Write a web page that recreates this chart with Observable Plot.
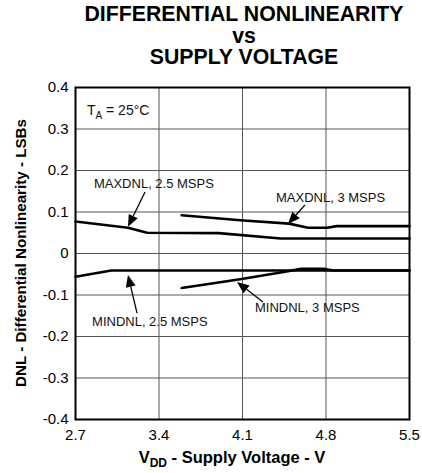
<!DOCTYPE html>
<html><head><meta charset="utf-8">
<script src="https://cdn.jsdelivr.net/npm/d3@7"></script>
<script src="https://cdn.jsdelivr.net/npm/@observablehq/plot@0.6"></script>
<style>
body{margin:0;background:#fff;font-family:"Liberation Sans",Arial,sans-serif;}
#title{height:70px;box-sizing:border-box;padding-top:4px;padding-left:66px;width:422px;text-align:center;font-weight:bold;font-size:21.3px;color:#000;white-space:nowrap;}
#title div{height:21.5px;line-height:21.5px;overflow:visible;}
</style></head><body>
<div id="title"></div>
<div id="chart"></div>
<script>
// ---- data ----
const titleLines = ["DIFFERENTIAL NONLINEARITY", "vs", "SUPPLY VOLTAGE"];
const xTicks = [2.7, 3.4, 4.1, 4.8, 5.5];
const xTickLabels = ["2.7", "3.4", "4.1", "4.8", "5.5"];
const yTicks = [-0.4, -0.3, -0.2, -0.1, 0, 0.1, 0.2, 0.3, 0.4];
const yTickLabels = ["-0.4", "-0.3", "-0.2", "-0.1", "0", "0.1", "0.2", "0.3", "0.4"];

const maxDnl25V = [2.7, 3.14, 3.30, 3.90, 4.42, 5.5];
const maxDnl25 = [0.077, 0.062, 0.050, 0.049, 0.036, 0.036];
const maxDnl3V = [3.59, 4.08, 4.49, 4.65, 4.81, 4.89, 5.5];
const maxDnl3 = [0.092, 0.080, 0.072, 0.062, 0.062, 0.066, 0.066];
const minDnl25V = [2.7, 3.0, 5.5];
const minDnl25 = [-0.056, -0.041, -0.041];
const minDnl3V = [3.59, 4.08, 4.42, 4.59, 4.78, 4.86, 5.5];
const minDnl3 = [-0.083, -0.062, -0.046, -0.037, -0.037, -0.041, -0.041];

const labelText = ["MAXDNL, 2.5 MSPS", "MAXDNL, 3 MSPS", "MINDNL, 2.5 MSPS", "MINDNL, 3 MSPS"];
const labelX = [2.859, 4.385, 2.843, 4.209];
const labelY = [0.157, 0.123, -0.176, -0.142];
const arrowX1 = [3.287, 4.628, 3.220, 4.276];
const arrowY1 = [0.147, 0.116, -0.145, -0.118];
const arrowX2 = [3.144, 4.486, 3.144, 4.058];
const arrowY2 = [0.063, 0.070, -0.053, -0.070];
const tempX = 2.8, tempY = 0.333;
const yLabel = "DNL - Differential Nonlinearity - LSBs";

// ---- build ----
const titleEl = document.getElementById("title");
titleLines.forEach(s => { const d = document.createElement("div"); d.textContent = s; titleEl.appendChild(d); });

const series = [];
const add = (name, xs, ys) => xs.forEach((v, i) => series.push({name, v, dnl: ys[i]}));
add("max25", maxDnl25V, maxDnl25);
add("max3", maxDnl3V, maxDnl3);
add("min25", minDnl25V, minDnl25);
add("min3", minDnl3V, minDnl3);

const annotations = labelText.map((t, i) => ({t, x: labelX[i], y: labelY[i], x1: arrowX1[i], y1: arrowY1[i], x2: arrowX2[i], y2: arrowY2[i]}));

function overlay(index, scales, values, dims) {
  const g = d3.create("svg:g").attr("font-family", "'Liberation Sans', Arial, sans-serif").attr("text-anchor", "start");
  const sx = scales.x, sy = scales.y;
  annotations.forEach(a => {
    const X1 = sx(a.x1), Y1 = sy(a.y1), X2 = sx(a.x2), Y2 = sy(a.y2);
    const ang = Math.atan2(Y2 - Y1, X2 - X1);
    const L = 12, W = 5;
    const bx = X2 - L * Math.cos(ang), by = Y2 - L * Math.sin(ang);
    g.append("line").attr("x1", X1).attr("y1", Y1).attr("x2", bx).attr("y2", by)
      .attr("stroke", "#000").attr("stroke-width", 1.3);
    const px = -Math.sin(ang) * W, py = Math.cos(ang) * W;
    g.append("path").attr("d", `M${X2},${Y2}L${bx + px},${by + py}L${bx - px},${by - py}Z`).attr("fill", "#000");
    g.append("text").attr("x", sx(a.x)).attr("y", sy(a.y)).attr("text-anchor", "start")
      .attr("font-size", 13).attr("fill", "#111").text(a.t);
  });
  const t = g.append("text").attr("x", sx(tempX)).attr("y", sy(tempY)).attr("text-anchor", "start")
    .attr("font-size", 14).attr("fill", "#111");
  t.append("tspan").text("T");
  t.append("tspan").attr("font-size", 10).attr("dy", 4).text("A");
  t.append("tspan").attr("dy", -4).text(" = 25°C");
  const cy = (dims.marginTop + dims.height - dims.marginBottom) / 2;
  g.append("text").attr("transform", `translate(21,${cy}) rotate(-90)`).attr("dy", "0.35em")
    .attr("text-anchor", "middle").attr("font-size", 15.2).attr("font-weight", "bold").text(yLabel);
  const xl = g.append("text").attr("x", 232).attr("y", dims.height - 10).attr("text-anchor", "middle")
    .attr("font-size", 16.5).attr("font-weight", "bold");
  xl.append("tspan").text("V");
  xl.append("tspan").attr("font-size", 12).attr("dy", 4).text("DD");
  xl.append("tspan").attr("dy", -4).text(" - Supply Voltage - V");
  return g.node();
}

const chart = Plot.plot({
  width: 422,
  height: 403,
  marginTop: 17,
  marginBottom: 54,
  marginLeft: 75,
  marginRight: 13,
  style: {fontFamily: "'Liberation Sans', Arial, sans-serif", fontSize: "15px", color: "#000", background: "#fff"},
  x: {domain: [2.7, 5.5], ticks: xTicks, tickFormat: d => xTickLabels[xTicks.indexOf(d)], tickSize: 0, tickPadding: 10, label: null},
  y: {domain: [-0.4, 0.4], ticks: yTicks, tickFormat: d => yTickLabels[yTicks.findIndex(v => Math.abs(v - d) < 1e-9)], tickSize: 0, tickPadding: 7, label: null},
  marks: [
    Plot.ruleX(xTicks.slice(1, -1), {stroke: "#555", strokeWidth: 1}),
    Plot.ruleY(yTicks.slice(1, -1), {stroke: "#555", strokeWidth: 1}),
    Plot.line(series, {x: "v", y: "dnl", z: "name", stroke: "#000", strokeWidth: 2.6}),
    Plot.frame({stroke: "#000", strokeWidth: 2}),
    overlay
  ]
});
document.getElementById("chart").appendChild(chart);
</script>
</body></html>
